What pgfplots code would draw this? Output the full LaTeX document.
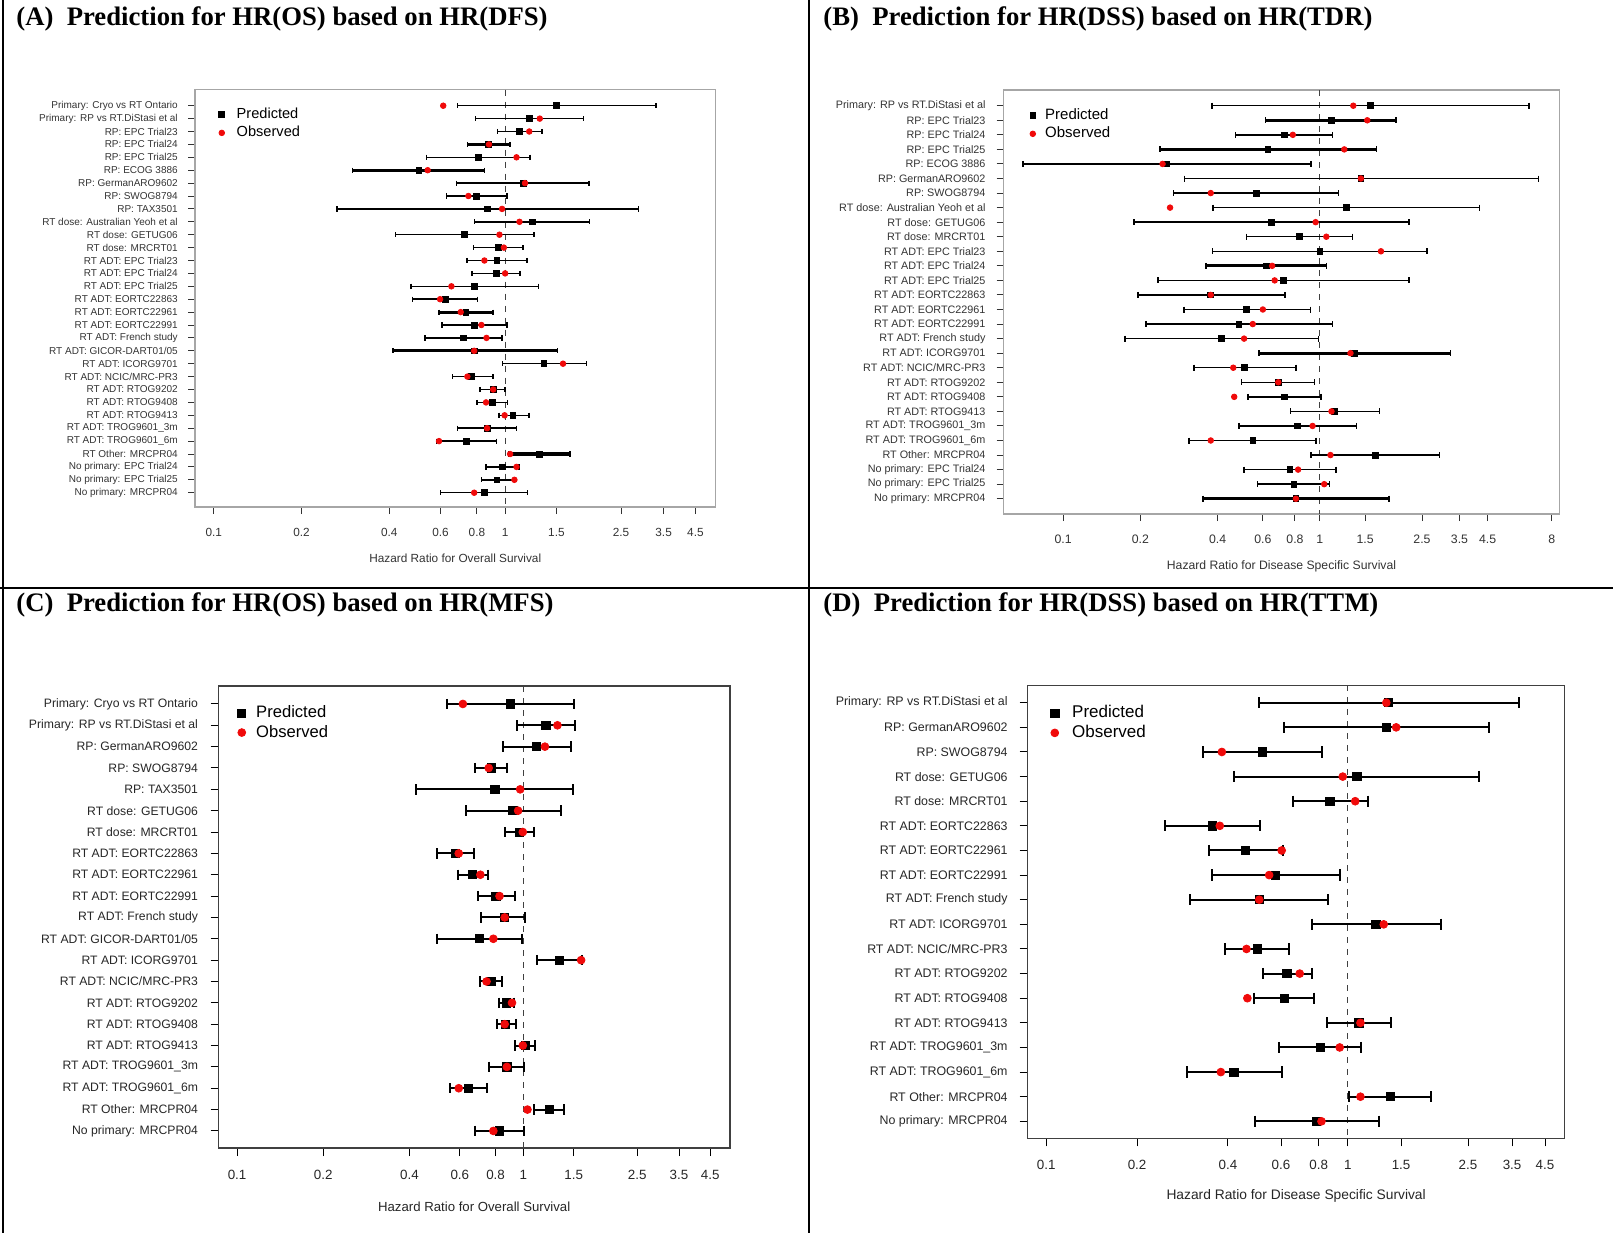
\documentclass[border=0pt]{standalone}
\usepackage{pgfplots}
\pgfplotsset{compat=1.18}
\usepackage{pgfplotstable}
\usepackage{fontspec}
\setmainfont{Liberation Sans}
\newfontfamily\titlefont{Liberation Serif}

% r = row, p = predicted HR, o = observed HR
\pgfplotstableread{
r p o
1 1.50 0.613
2 1.21 1.315
3 1.12 1.21
4 0.874 0.88
5 0.809 1.094
6 0.506 0.542
7 1.158 1.17
8 0.799 0.748
9 0.87 0.976
10 1.24 1.12
11 0.727 0.956
12 0.948 0.99
13 0.937 0.849
14 0.933 1.0
15 0.783 0.654
16 0.623 0.598
17 0.733 0.704
18 0.786 0.829
19 0.721 0.863
20 0.783 0.783
21 1.358 1.58
22 0.767 0.742
23 0.91 0.91
24 0.903 0.86
25 1.063 0.996
26 0.867 0.867
27 0.736 0.593
28 1.315 1.04
29 0.976 1.094
30 0.937 1.076
31 0.849 0.783
}\dataA
\pgfplotstableread{
r p o
1 1.57 1.35
2 1.11 1.53
3 0.726 0.785
4 0.628 1.245
5 0.2535 0.244
6 1.445 1.445
7 0.565 0.376
8 1.27 0.261
9 0.646 0.963
10 0.83 1.06
11 1.0 1.73
12 0.619 0.652
13 0.719 0.667
14 0.376 0.376
15 0.519 0.6
16 0.484 0.548
17 0.415 0.507
18 1.366 1.316
19 0.507 0.46
20 0.689 0.689
21 0.726 0.464
22 1.14 1.11
23 0.819 0.937
24 0.549 0.376
25 1.645 1.10
26 0.764 0.823
27 0.792 1.04
28 0.807 0.807
}\dataB
\pgfplotstableread{
r p o
1 0.901 0.615
2 1.20 1.316
3 1.114 1.19
4 0.773 0.757
5 0.796 0.975
6 0.92 0.959
7 0.971 0.996
8 0.578 0.595
9 0.665 0.708
10 0.802 0.826
11 0.861 0.861
12 0.702 0.786
13 1.338 1.592
14 0.773 0.744
15 0.871 0.913
16 0.865 0.861
17 1.017 0.996
18 0.876 0.876
19 0.644 0.595
20 1.231 1.034
21 0.826 0.786
}\dataC
\pgfplotstableread{
r p o
1 1.361 1.34
2 1.345 1.445
3 0.52 0.382
4 1.07 0.961
5 0.871 1.057
6 0.356 0.376
7 0.457 0.603
8 0.575 0.548
9 0.508 0.508
10 1.238 1.314
11 0.50 0.461
12 0.627 0.692
13 0.615 0.464
14 1.087 1.10
15 0.811 0.939
16 0.419 0.379
17 1.383 1.10
18 0.786 0.817
}\dataD

\definecolor{obsred}{RGB}{240,10,10}
\def\legw{9.6pt}
\pgfplotsset{legend image code/.code={\draw[#1] plot[only marks] coordinates {(3pt,0pt)}; \path (0pt,0pt) (\legw,0pt);}}

\begin{document}
\begin{tikzpicture}
\useasboundingbox (0pt,0pt) rectangle (806.5pt,-616.5pt);

% frame lines
\draw[line width=1pt] (1.5pt,0pt) -- (1.5pt,-616.5pt);
\draw[line width=1pt] (404.5pt,0pt) -- (404.5pt,-616.5pt);
\draw[line width=1pt] (0pt,-293.85pt) -- (806.5pt,-293.85pt);

% titles
\node[anchor=west, inner sep=0pt, font=\titlefont\bfseries\fontsize{13.35}{15}\selectfont] at (8pt,-9.5pt) {(A)\enspace Prediction for HR(OS) based on HR(DFS)};
\node[anchor=west, inner sep=0pt, font=\titlefont\bfseries\fontsize{13.35}{15}\selectfont] at (411.5pt,-9.5pt) {(B)\enspace Prediction for HR(DSS) based on HR(TDR)};
\node[anchor=west, inner sep=0pt, font=\titlefont\bfseries\fontsize{13.35}{15}\selectfont] at (8pt,-302.5pt) {(C)\enspace Prediction for HR(OS) based on HR(MFS)};
\node[anchor=west, inner sep=0pt, font=\titlefont\bfseries\fontsize{13.35}{15}\selectfont] at (411.5pt,-302.5pt) {(D)\enspace Prediction for HR(DSS) based on HR(TTM)};

% ---------------- Panel A
\def\legw{9.65pt}
\begin{axis}[xmode=log, scale only axis, y dir=reverse, tick align=outside, tick pos=left,
  minor tick num=0, clip=false, legend cell align=left, unbounded coords=jump,
  at={(97.6pt,-44.75pt)}, anchor=north west, width=260.1pt, height=208.75pt,
  xmin=0.0863, xmax=5.27, ymin=-0.256, ymax=32.109,
  xtick={0.1,0.2,0.4,0.6,0.8,1,1.5,2.5,3.5,4.5},
  xticklabels={0.1,0.2,0.4,0.6,0.8,1,1.5,2.5,3.5,4.5},
  axis line style={gray!70, line width=0.9pt},
  major tick length=3.5pt, tick style={black!80, line width=0.5pt},
  ytick={1,...,31},
  yticklabels={Primary: Cryo vs RT Ontario, Primary: RP vs RT.DiStasi et al, RP: EPC Trial23, RP: EPC Trial24, RP: EPC Trial25, RP: ECOG 3886, RP: GermanARO9602, RP: SWOG8794, RP: TAX3501, RT dose: Australian Yeoh et al, RT dose: GETUG06, RT dose: MRCRT01, RT ADT: EPC Trial23, RT ADT: EPC Trial24, RT ADT: EPC Trial25, RT ADT: EORTC22863, RT ADT: EORTC22961, RT ADT: EORTC22991, RT ADT: French study, RT ADT: GICOR-DART01/05, RT ADT: ICORG9701, RT ADT: NCIC/MRC-PR3, RT ADT: RTOG9202, RT ADT: RTOG9408, RT ADT: RTOG9413, RT ADT: TROG9601\_3m, RT ADT: TROG9601\_6m, RT Other: MRCPR04, No primary: EPC Trial24, No primary: EPC Trial25, No primary: MRCPR04},
  yticklabel style={font=\fontsize{5}{6}\selectfont, text=black!80, xshift=-1.7pt},
  xticklabel style={font=\fontsize{5.9}{7}\selectfont, text=black!80, yshift=-3.4pt},
  xlabel={Hazard Ratio for Overall Survival},
  xlabel style={at={(axis description cs:0.5,0)}, anchor=center, yshift=-25.5pt, font=\fontsize{5.9}{7}\selectfont, text=black!80},
  legend style={at={(axis description cs:0,1)}, anchor=north west, xshift=9.9pt, yshift=-8.3pt, draw=none, fill=none, inner sep=0pt, font=\fontsize{7.3}{8}\selectfont, row sep=1.2pt, nodes={inner sep=0.6pt}},
]
\addplot[forget plot, dashed, black!75, line width=0.5pt] coordinates {(1,-0.256) (1,32.109)};
% confidence intervals
\addplot[forget plot, black, line width=0.75pt, mark=|, mark size=1.3pt, mark options={solid}] coordinates {
(0.687,1) (3.29,1) (nan,1)
(0.792,2) (1.86,2) (nan,2)
(0.94,3) (1.34,3) (nan,3)
(0.743,4) (1.04,4) (nan,4)
(0.538,5) (1.216,5) (nan,5)
(0.299,6) (0.849,6) (nan,6)
(0.681,7) (1.94,7) (nan,7)
(0.628,8) (1.016,8) (nan,8)
(0.265,9) (2.87,9) (nan,9)
(0.786,10) (1.95,10) (nan,10)
(0.421,11) (1.257,11) (nan,11)
(0.78,12) (1.153,12) (nan,12)
(0.739,13) (1.187,13) (nan,13)
(0.77,14) (1.126,14) (nan,14)
(0.476,15) (1.304,15) (nan,15)
(0.48,16) (0.805,16) (nan,16)
(0.593,17) (0.91,17) (nan,17)
(0.608,18) (1.016,18) (nan,18)
(0.531,19) (0.976,19) (nan,19)
(0.412,20) (1.51,20) (nan,20)
(0.98,21) (1.90,21) (nan,21)
(0.659,22) (0.907,22) (nan,22)
(0.819,23) (1.0,23) (nan,23)
(0.802,24) (1.02,24) (nan,24)
(0.952,25) (1.207,25) (nan,25)
(0.687,26) (1.094,26) (nan,26)
(0.581,27) (0.933,27) (nan,27)
(1.03,28) (1.667,28) (nan,28)
(0.86,29) (1.117,29) (nan,29)
(0.829,30) (1.076,30) (nan,30)
(0.6,31) (1.192,31)
};
\addplot[forget plot, black, line width=1.6pt] coordinates {
(0.743,4) (1.04,4) (nan,4)
(0.299,6) (0.849,6) (nan,6)
(0.593,17) (0.91,17) (nan,17)
(0.412,20) (1.51,20) (nan,20)
(1.03,28) (1.667,28)
};
\addplot[only marks, mark=square*, mark size=1.45pt, black] table[x=p, y=r] {\dataA};
\addlegendentry{Predicted}
\addplot[only marks, mark=*, mark size=1.4pt, obsred] table[x=o, y=r] {\dataA};
\addlegendentry{Observed}
\end{axis}

% ---------------- Panel B
\def\legw{8.4pt}
\begin{axis}[xmode=log, scale only axis, y dir=reverse, tick align=outside, tick pos=left,
  minor tick num=0, clip=false, legend cell align=left, unbounded coords=jump,
  at={(501.75pt,-45pt)}, anchor=north west, width=278pt, height=212pt,
  xmin=0.0586, xmax=8.58, ymin=-0.08, ymax=29.05,
  xtick={0.1,0.2,0.4,0.6,0.8,1,1.5,2.5,3.5,4.5,8},
  xticklabels={0.1,0.2,0.4,0.6,0.8,1,1.5,2.5,3.5,4.5,8},
  axis line style={gray!70, line width=0.9pt},
  major tick length=3.5pt, tick style={black!80, line width=0.5pt},
  ytick={1,...,28},
  yticklabels={Primary: RP vs RT.DiStasi et al, RP: EPC Trial23, RP: EPC Trial24, RP: EPC Trial25, RP: ECOG 3886, RP: GermanARO9602, RP: SWOG8794, RT dose: Australian Yeoh et al, RT dose: GETUG06, RT dose: MRCRT01, RT ADT: EPC Trial23, RT ADT: EPC Trial24, RT ADT: EPC Trial25, RT ADT: EORTC22863, RT ADT: EORTC22961, RT ADT: EORTC22991, RT ADT: French study, RT ADT: ICORG9701, RT ADT: NCIC/MRC-PR3, RT ADT: RTOG9202, RT ADT: RTOG9408, RT ADT: RTOG9413, RT ADT: TROG9601\_3m, RT ADT: TROG9601\_6m, RT Other: MRCPR04, No primary: EPC Trial24, No primary: EPC Trial25, No primary: MRCPR04},
  yticklabel style={font=\fontsize{5.4}{6.5}\selectfont, text=black!80, xshift=-2pt},
  xticklabel style={font=\fontsize{6.15}{7}\selectfont, text=black!80, yshift=-3.6pt},
  xlabel={Hazard Ratio for Disease Specific Survival},
  xlabel style={at={(axis description cs:0.5,0)}, anchor=center, yshift=-26pt, font=\fontsize{6.1}{7}\selectfont, text=black!80},
  legend style={at={(axis description cs:0,1)}, anchor=north west, xshift=11.25pt, yshift=-8.5pt, draw=none, fill=none, inner sep=0pt, font=\fontsize{7.5}{8}\selectfont, row sep=1pt, nodes={inner sep=0.6pt}},
]
\addplot[forget plot, dashed, black!75, line width=0.5pt] coordinates {(1,-0.08) (1,29.05)};
\addplot[forget plot, black, line width=0.75pt, mark=|, mark size=1.5pt, mark options={solid}] coordinates {
(0.38,1) (6.52,1) (nan,1)
(0.614,2) (1.98,2) (nan,2)
(0.469,3) (1.12,3) (nan,3)
(0.238,4) (1.66,4) (nan,4)
(0.0699,5) (0.924,5) (nan,5)
(0.297,6) (7.12,6) (nan,6)
(0.269,7) (1.18,7) (nan,7)
(0.384,8) (4.19,8) (nan,8)
(0.189,9) (2.22,9) (nan,9)
(0.517,10) (1.34,10) (nan,10)
(0.382,11) (2.62,11) (nan,11)
(0.361,12) (1.06,12) (nan,12)
(0.234,13) (2.22,13) (nan,13)
(0.196,14) (0.732,14) (nan,14)
(0.296,15) (0.92,15) (nan,15)
(0.21,16) (1.12,16) (nan,16)
(0.174,17) (0.99,17) (nan,17)
(0.58,18) (3.23,18) (nan,18)
(0.323,19) (0.807,19) (nan,19)
(0.495,20) (0.954,20) (nan,20)
(0.524,21) (1.01,21) (nan,21)
(0.767,22) (1.71,22) (nan,22)
(0.484,23) (1.39,23) (nan,23)
(0.31,24) (0.968,24) (nan,24)
(0.924,25) (2.92,25) (nan,25)
(0.507,26) (1.155,26) (nan,26)
(0.572,27) (1.09,27) (nan,27)
(0.351,28) (1.86,28)
};
\addplot[forget plot, black, line width=1.6pt] coordinates {
(0.614,2) (1.98,2) (nan,2)
(0.238,4) (1.66,4) (nan,4)
(0.361,12) (1.06,12) (nan,12)
(0.58,18) (3.23,18) (nan,18)
(0.351,28) (1.86,28)
};
\addplot[only marks, mark=square*, mark size=1.45pt, black] table[x=p, y=r] {\dataB};
\addlegendentry{Predicted}
\addplot[only marks, mark=*, mark size=1.4pt, obsred] table[x=o, y=r] {\dataB};
\addlegendentry{Observed}
\end{axis}

% ---------------- Panel C
\def\legw{9.4pt}
\begin{axis}[xmode=log, scale only axis, y dir=reverse, tick align=outside, tick pos=left,
  minor tick num=0, clip=false, legend cell align=left, unbounded coords=jump,
  at={(109.25pt,-343pt)}, anchor=north west, width=255.7pt, height=231pt,
  xmin=0.0861, xmax=5.27, ymin=0.16, ymax=21.8,
  xtick={0.1,0.2,0.4,0.6,0.8,1,1.5,2.5,3.5,4.5},
  xticklabels={0.1,0.2,0.4,0.6,0.8,1,1.5,2.5,3.5,4.5},
  axis line style={black!75, line width=0.7pt},
  major tick length=4pt, tick style={black, line width=0.5pt},
  ytick={1,...,21},
  yticklabels={Primary: Cryo vs RT Ontario, Primary: RP vs RT.DiStasi et al, RP: GermanARO9602, RP: SWOG8794, RP: TAX3501, RT dose: GETUG06, RT dose: MRCRT01, RT ADT: EORTC22863, RT ADT: EORTC22961, RT ADT: EORTC22991, RT ADT: French study, RT ADT: GICOR-DART01/05, RT ADT: ICORG9701, RT ADT: NCIC/MRC-PR3, RT ADT: RTOG9202, RT ADT: RTOG9408, RT ADT: RTOG9413, RT ADT: TROG9601\_3m, RT ADT: TROG9601\_6m, RT Other: MRCPR04, No primary: MRCPR04},
  yticklabel style={font=\fontsize{6.1}{7}\selectfont, text=black!85, xshift=-2.75pt},
  xticklabel style={font=\fontsize{6.7}{8}\selectfont, text=black!85, yshift=-3.4pt},
  xlabel={Hazard Ratio for Overall Survival},
  xlabel style={at={(axis description cs:0.5,0)}, anchor=center, yshift=-29.5pt, font=\fontsize{6.6}{8}\selectfont, text=black!85},
  legend style={at={(axis description cs:0,1)}, anchor=north west, xshift=8.25pt, yshift=-9pt, draw=none, fill=none, inner sep=0pt, font=\fontsize{8.3}{9}\selectfont, row sep=1pt, nodes={inner sep=0.6pt}},
]
\addplot[forget plot, dashed, black!75, line width=0.5pt] coordinates {(1,0.16) (1,21.8)};
\addplot[forget plot, black, line width=1pt, mark=|, mark size=2.6pt, mark options={solid}] coordinates {
(0.541,1) (1.503,1) (nan,1)
(0.951,2) (1.51,2) (nan,2)
(0.847,3) (1.47,3) (nan,3)
(0.676,4) (0.879,4) (nan,4)
(0.423,5) (1.496,5) (nan,5)
(0.63,6) (1.349,6) (nan,6)
(0.861,7) (1.091,7) (nan,7)
(0.50,8) (0.671,8) (nan,8)
(0.59,9) (0.754,9) (nan,9)
(0.694,10) (0.932,10) (nan,10)
(0.711,11) (1.017,11) (nan,11)
(0.50,12) (0.992,12) (nan,12)
(1.119,13) (1.606,13) (nan,13)
(0.705,14) (0.843,14) (nan,14)
(0.823,15) (0.928,15) (nan,15)
(0.812,16) (0.94,16) (nan,16)
(0.939,17) (1.096,17) (nan,17)
(0.76,18) (1.004,18) (nan,18)
(0.556,19) (0.744,19) (nan,19)
(1.091,20) (1.39,20) (nan,20)
(0.679,21) (1.004,21)
};
\addplot[only marks, mark=square*, mark size=2.05pt, black] table[x=p, y=r] {\dataC};
\addlegendentry{Predicted}
\addplot[only marks, mark=*, mark size=1.95pt, obsred] table[x=o, y=r] {\dataC};
\addlegendentry{Observed}
\end{axis}

% ---------------- Panel D
\def\legw{10.9pt}
\begin{axis}[xmode=log, scale only axis, y dir=reverse, tick align=outside, tick pos=left,
  minor tick num=0, clip=false, legend cell align=left, unbounded coords=jump,
  at={(513.8pt,-342.65pt)}, anchor=north west, width=268.55pt, height=226.5pt,
  xmin=0.0867, xmax=5.23, ymin=0.293, ymax=18.69,
  xtick={0.1,0.2,0.4,0.6,0.8,1,1.5,2.5,3.5,4.5},
  xticklabels={0.1,0.2,0.4,0.6,0.8,1,1.5,2.5,3.5,4.5},
  axis line style={black!75, line width=0.7pt},
  major tick length=4pt, tick style={black, line width=0.5pt},
  ytick={1,...,18},
  yticklabels={Primary: RP vs RT.DiStasi et al, RP: GermanARO9602, RP: SWOG8794, RT dose: GETUG06, RT dose: MRCRT01, RT ADT: EORTC22863, RT ADT: EORTC22961, RT ADT: EORTC22991, RT ADT: French study, RT ADT: ICORG9701, RT ADT: NCIC/MRC-PR3, RT ADT: RTOG9202, RT ADT: RTOG9408, RT ADT: RTOG9413, RT ADT: TROG9601\_3m, RT ADT: TROG9601\_6m, RT Other: MRCPR04, No primary: MRCPR04},
  yticklabel style={font=\fontsize{6.2}{7}\selectfont, text=black!85, xshift=-2.5pt},
  xticklabel style={font=\fontsize{6.7}{8}\selectfont, text=black!85, yshift=-3.2pt},
  xlabel={Hazard Ratio for Disease Specific Survival},
  xlabel style={at={(axis description cs:0.5,0)}, anchor=center, yshift=-28.9pt, font=\fontsize{6.9}{8}\selectfont, text=black!85},
  legend style={at={(axis description cs:0,1)}, anchor=north west, xshift=10.2pt, yshift=-9.3pt, draw=none, fill=none, inner sep=0pt, font=\fontsize{8.5}{9}\selectfont, row sep=1pt, nodes={inner sep=0.6pt}},
]
\addplot[forget plot, dashed, black!75, line width=0.5pt] coordinates {(1,0.293) (1,18.69)};
\addplot[forget plot, black, line width=1pt, mark=|, mark size=2.8pt, mark options={solid}] coordinates {
(0.508,1) (3.69,1) (nan,1)
(0.615,2) (2.93,2) (nan,2)
(0.33,3) (0.821,3) (nan,3)
(0.42,4) (2.72,4) (nan,4)
(0.655,5) (1.167,5) (nan,5)
(0.248,6) (0.51,6) (nan,6)
(0.346,7) (0.607,7) (nan,7)
(0.353,8) (0.942,8) (nan,8)
(0.30,9) (0.857,9) (nan,9)
(0.758,10) (2.03,10) (nan,10)
(0.392,11) (0.64,11) (nan,11)
(0.523,12) (0.758,12) (nan,12)
(0.489,13) (0.773,13) (nan,13)
(0.85,14) (1.394,14) (nan,14)
(0.589,15) (1.108,15) (nan,15)
(0.292,16) (0.603,16) (nan,16)
(1.008,17) (1.89,17) (nan,17)
(0.49,18) (1.263,18)
};
\addplot[only marks, mark=square*, mark size=2.05pt, black] table[x=p, y=r] {\dataD};
\addlegendentry{Predicted}
\addplot[only marks, mark=*, mark size=1.95pt, obsred] table[x=o, y=r] {\dataD};
\addlegendentry{Observed}
\end{axis}
\end{tikzpicture}
\end{document}
